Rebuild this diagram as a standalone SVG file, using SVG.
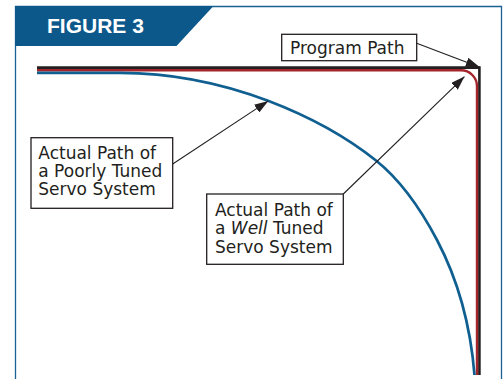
<svg xmlns="http://www.w3.org/2000/svg" width="503" height="379" viewBox="0 0 503 379">
  <defs>
    <style>
      .frame { fill: none; stroke: #1a6294; stroke-width: 1.3; }
      .box { fill: #ffffff; stroke: #231f20; stroke-width: 1.3; }
      .label { font-family: "DejaVu Sans", "Liberation Sans", sans-serif; font-size: 17px; fill: #231f20; }
      .title { font-family: "Liberation Sans", Arial, sans-serif; font-size: 21px; font-weight: bold; fill: #ffffff; }
      .leader { fill: none; stroke: #231f20; stroke-width: 1.1; marker-end: url(#tip); }
      .program { fill: none; stroke: #231f20; stroke-width: 2.6; stroke-linejoin: miter; }
      .well { fill: none; stroke: #a4262c; stroke-width: 2.4; }
      .poor { fill: none; stroke: #0f5f91; stroke-width: 2.7; }
    </style>
    <marker id="tip" viewBox="0 0 14 9.5" refX="14" refY="4.75" markerWidth="14" markerHeight="9.5" markerUnits="userSpaceOnUse" orient="auto">
      <path d="M0,0 L14,4.75 L0,9.5 z" fill="#231f20"/>
    </marker>
  </defs>

  <rect x="0" y="0" width="503" height="379" fill="#ffffff"/>

  <!-- outer frame, open at the bottom -->
  <path class="frame" d="M15.5,379 V6.5 H501.5 V379"/>

  <!-- title tab -->
  <g id="header">
    <polygon points="15,6 213.5,6 176.5,46 15,46" fill="#0d588b"/>
    <text class="title" x="47" y="33.3">FIGURE 3</text>
  </g>

  <!-- traced paths -->
  <g id="paths">
    <path class="program" d="M37,67.6 H479.4 V375"/>
    <path class="well" d="M37,70.3 H461 A16,16 0 0 1 477,86.3 V375"/>
    <path class="poor" d="M37,72.8 L120,72.8 Q194,72.8 268,100.7 C304,114.4 340,131.7 376,160.5 C396.3,176.7 416.7,201.4 437,240 C460.7,285 470.9,330 474.5,375"/>
  </g>

  <!-- leader lines -->
  <g id="connectors">
    <path class="leader" d="M416.7,43.3 L479.8,67.2"/>
    <path class="leader" d="M172.7,164 L268.3,100.9"/>
    <path class="leader" d="M343.3,194 L464.5,76.6"/>
  </g>

  <g id="node-program-path">
    <rect class="box" x="281.7" y="34.3" width="135" height="26.4"/>
    <text class="label" x="290" y="54.3">Program Path</text>
  </g>

  <g id="node-poorly-tuned">
    <rect class="box" x="31" y="137.7" width="141.7" height="70.6"/>
    <text class="label" x="38.3" y="159.3">Actual Path of</text>
    <text class="label" x="38.3" y="177.3">a Poorly Tuned</text>
    <text class="label" x="38.3" y="195.3">Servo System</text>
  </g>

  <g id="node-well-tuned">
    <rect class="box" x="206.7" y="194" width="136.6" height="70.3"/>
    <text class="label" x="215" y="216">Actual Path of</text>
    <text class="label" x="215" y="234.3">a <tspan font-style="italic">Well</tspan> Tuned</text>
    <text class="label" x="215" y="252.6">Servo System</text>
  </g>
</svg>
